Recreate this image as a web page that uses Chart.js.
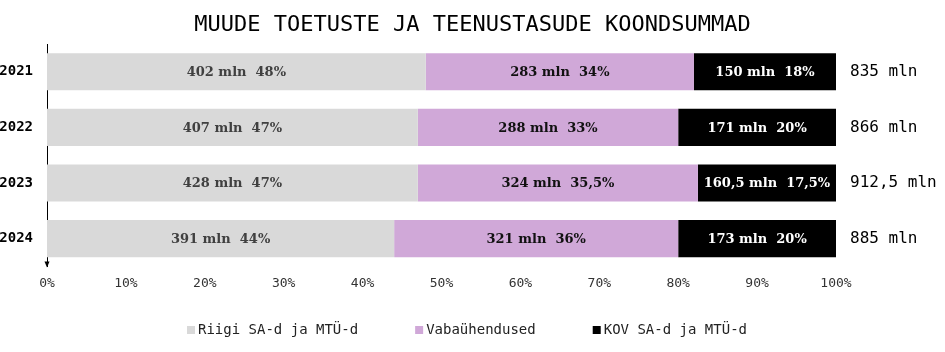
<!DOCTYPE html>
<html>
<head>
<meta charset="utf-8">
<script src="https://cdn.jsdelivr.net/npm/chart.js@4"></script>
<style>
  html, body { margin: 0; padding: 0; background: #fff; }
  #wrap { width: 945px; height: 352px; position: relative; }
</style>
</head>
<body>
<div id="wrap"><canvas id="chart"></canvas></div>
<script>
// Years (categories)
const years = ['2021', '2022', '2023', '2024'];

// Shares of the total, percent
const riigiPct = [48, 47, 47, 44];
const vabaPct = [34, 33, 35.5, 36];
const kovPct = [18, 20, 17.5, 20];

// Amounts, million euros
const riigiMln = [402, 407, 428, 391];
const vabaMln = [283, 288, 324, 321];
const kovMln = [150, 171, 160.5, 173];
const totalMln = [835, 866, 912.5, 885];

const xTicks = [0, 10, 20, 30, 40, 50, 60, 70, 80, 90, 100];

const seriesNames = ['Riigi SA-d ja MTÜ-d', 'Vabaühendused', 'KOV SA-d ja MTÜ-d'];
const seriesColors = ['#d9d9d9', '#d0a8d8', '#000000'];

const TITLE = 'MUUDE TOETUSTE JA TEENUSTASUDE KOONDSUMMAD';
const MONO = '"DejaVu Sans Mono", "Liberation Mono", monospace';
const SERIF = '"DejaVu Serif", "Liberation Serif", serif';

const fmt = v => String(v).replace('.', ',');

// title, segment labels, totals, axis arrow and legend
const labelPlugin = {
    id: 'segLabels',
    afterDatasetsDraw(chart) {
        const ctx = chart.ctx;
        const W = chart.width;
        const mlnSets = [riigiMln, vabaMln, kovMln];
        const txtColors = ['#404040', '#111111', '#ffffff'];
        ctx.save();
        ctx.textBaseline = 'middle';

        // title centred on the whole canvas
        ctx.textAlign = 'center';
        ctx.font = '22px ' + MONO;
        ctx.fillStyle = '#000';
        ctx.fillText(TITLE, W / 2, 25);

        // segment labels
        ctx.font = 'bold 13px ' + SERIF;
        chart.data.datasets.forEach((ds, di) => {
            const meta = chart.getDatasetMeta(di);
            meta.data.forEach((bar, i) => {
                const cx = (bar.x + bar.base) / 2;
                ctx.fillStyle = txtColors[di];
                ctx.fillText(fmt(mlnSets[di][i]) + ' mln  ' + fmt(ds.data[i]) + '%', cx, bar.y + 1);
            });
        });

        // totals
        const last = chart.getDatasetMeta(2);
        ctx.textAlign = 'left';
        ctx.font = '16px ' + MONO;
        ctx.fillStyle = '#000';
        last.data.forEach((bar, i) => {
            ctx.fillText(fmt(totalMln[i]) + ' mln', chart.chartArea.right + 14, bar.y);
        });

        // arrow head on y axis
        const x = chart.scales.x.getPixelForValue(0);
        const yb = chart.chartArea.bottom;
        ctx.beginPath();
        ctx.moveTo(x - 2.5, yb - 5);
        ctx.lineTo(x + 2.5, yb - 5);
        ctx.lineTo(x, yb + 1);
        ctx.closePath();
        ctx.fill();

        // legend
        ctx.font = '14px ' + MONO;
        const box = 8, gapBox = 3, gapItem = 57;
        const widths = seriesNames.map(n => box + gapBox + ctx.measureText(n).width);
        const total = widths.reduce((a, b) => a + b, 0) + gapItem * (widths.length - 1);
        let lx = 467 - total / 2;
        const ly = 330;
        seriesNames.forEach((n, i) => {
            ctx.fillStyle = seriesColors[i];
            ctx.fillRect(lx, ly - 4, box, box);
            ctx.fillStyle = '#222';
            ctx.fillText(n, lx + box + gapBox, ly);
            lx += widths[i] + gapItem;
        });
        ctx.restore();
    }
};

new Chart(document.getElementById('chart'), {
    type: 'bar',
    data: {
        labels: years,
        datasets: seriesNames.map((n, i) => ({
            label: n,
            data: [riigiPct, vabaPct, kovPct][i],
            backgroundColor: seriesColors[i]
        }))
    },
    options: {
        indexAxis: 'y',
        responsive: true,
        maintainAspectRatio: false,
        animation: false,
        datasets: { bar: { barPercentage: 0.667, categoryPercentage: 1 } },
        layout: { padding: { left: 0, right: 109, top: 44, bottom: 60 } },
        plugins: {
            title: { display: false },
            legend: { display: false },
            tooltip: { enabled: false }
        },
        scales: {
            x: {
                stacked: true,
                min: 0,
                max: 100,
                grid: { display: false },
                border: { display: false },
                afterBuildTicks: axis => { axis.ticks = xTicks.map(v => ({ value: v })); },
                ticks: {
                    color: '#333',
                    font: { family: MONO, size: 13 },
                    padding: 1,
                    maxRotation: 0,
                    callback: v => v + '%'
                }
            },
            y: {
                stacked: true,
                afterFit: s => { s.width = 47; },
                grid: { display: false },
                border: { display: true, color: '#000', width: 1 },
                ticks: {
                    color: '#000',
                    font: { family: MONO, size: 14, weight: 'bold' },
                    padding: 6
                }
            }
        }
    },
    plugins: [labelPlugin]
});
</script>
</body>
</html>
